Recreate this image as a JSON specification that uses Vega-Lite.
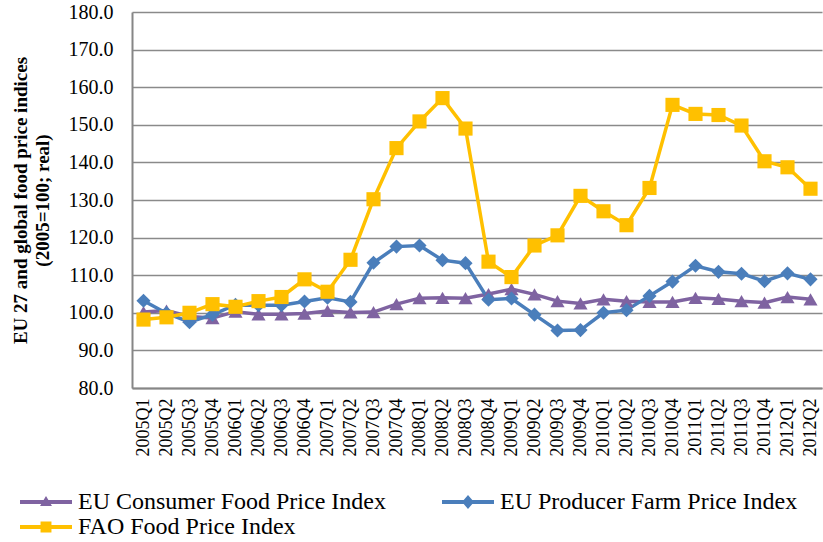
{
  "$schema": "https://vega.github.io/schema/vega-lite/v6.json",
  "width": 690,
  "height": 376,
  "autosize": "none",
  "padding": {"left": 132, "top": 12, "right": 1, "bottom": 154},
  "background": "white",
  "config": {
    "view": {"stroke": null},
    "font": "Liberation Serif",
    "style": {"guide-label": {"font": "Liberation Serif", "fill": "#000000"}},
    "legend": {"labelFont": "Liberation Serif", "labelFontSize": 24, "labelColor": "#000000"}
  },
  "resolve": {"legend": {"color": "independent", "shape": "independent"}},
  "datasets": {
    "rows": [
      {"quarter": "2005Q1", "series": "EU Consumer Food Price Index", "value": 100.2},
      {"quarter": "2005Q2", "series": "EU Consumer Food Price Index", "value": 100.6},
      {"quarter": "2005Q3", "series": "EU Consumer Food Price Index", "value": 99.0},
      {"quarter": "2005Q4", "series": "EU Consumer Food Price Index", "value": 98.6},
      {"quarter": "2006Q1", "series": "EU Consumer Food Price Index", "value": 100.3},
      {"quarter": "2006Q2", "series": "EU Consumer Food Price Index", "value": 99.6},
      {"quarter": "2006Q3", "series": "EU Consumer Food Price Index", "value": 99.6},
      {"quarter": "2006Q4", "series": "EU Consumer Food Price Index", "value": 99.8},
      {"quarter": "2007Q1", "series": "EU Consumer Food Price Index", "value": 100.5},
      {"quarter": "2007Q2", "series": "EU Consumer Food Price Index", "value": 100.1},
      {"quarter": "2007Q3", "series": "EU Consumer Food Price Index", "value": 100.2},
      {"quarter": "2007Q4", "series": "EU Consumer Food Price Index", "value": 102.3},
      {"quarter": "2008Q1", "series": "EU Consumer Food Price Index", "value": 103.9},
      {"quarter": "2008Q2", "series": "EU Consumer Food Price Index", "value": 104.0},
      {"quarter": "2008Q3", "series": "EU Consumer Food Price Index", "value": 103.9},
      {"quarter": "2008Q4", "series": "EU Consumer Food Price Index", "value": 105.0},
      {"quarter": "2009Q1", "series": "EU Consumer Food Price Index", "value": 106.3},
      {"quarter": "2009Q2", "series": "EU Consumer Food Price Index", "value": 104.9},
      {"quarter": "2009Q3", "series": "EU Consumer Food Price Index", "value": 103.1},
      {"quarter": "2009Q4", "series": "EU Consumer Food Price Index", "value": 102.5},
      {"quarter": "2010Q1", "series": "EU Consumer Food Price Index", "value": 103.6},
      {"quarter": "2010Q2", "series": "EU Consumer Food Price Index", "value": 103.1},
      {"quarter": "2010Q3", "series": "EU Consumer Food Price Index", "value": 102.9},
      {"quarter": "2010Q4", "series": "EU Consumer Food Price Index", "value": 102.9},
      {"quarter": "2011Q1", "series": "EU Consumer Food Price Index", "value": 104.0},
      {"quarter": "2011Q2", "series": "EU Consumer Food Price Index", "value": 103.7},
      {"quarter": "2011Q3", "series": "EU Consumer Food Price Index", "value": 103.1},
      {"quarter": "2011Q4", "series": "EU Consumer Food Price Index", "value": 102.7},
      {"quarter": "2012Q1", "series": "EU Consumer Food Price Index", "value": 104.2},
      {"quarter": "2012Q2", "series": "EU Consumer Food Price Index", "value": 103.6},
      {"quarter": "2005Q1", "series": "EU Producer Farm Price Index", "value": 103.2},
      {"quarter": "2005Q2", "series": "EU Producer Farm Price Index", "value": 99.9},
      {"quarter": "2005Q3", "series": "EU Producer Farm Price Index", "value": 97.5},
      {"quarter": "2005Q4", "series": "EU Producer Farm Price Index", "value": 99.5},
      {"quarter": "2006Q1", "series": "EU Producer Farm Price Index", "value": 102.1},
      {"quarter": "2006Q2", "series": "EU Producer Farm Price Index", "value": 102.0},
      {"quarter": "2006Q3", "series": "EU Producer Farm Price Index", "value": 102.0},
      {"quarter": "2006Q4", "series": "EU Producer Farm Price Index", "value": 103.0},
      {"quarter": "2007Q1", "series": "EU Producer Farm Price Index", "value": 104.0},
      {"quarter": "2007Q2", "series": "EU Producer Farm Price Index", "value": 102.9},
      {"quarter": "2007Q3", "series": "EU Producer Farm Price Index", "value": 113.3},
      {"quarter": "2007Q4", "series": "EU Producer Farm Price Index", "value": 117.6},
      {"quarter": "2008Q1", "series": "EU Producer Farm Price Index", "value": 117.9},
      {"quarter": "2008Q2", "series": "EU Producer Farm Price Index", "value": 114.0},
      {"quarter": "2008Q3", "series": "EU Producer Farm Price Index", "value": 113.2},
      {"quarter": "2008Q4", "series": "EU Producer Farm Price Index", "value": 103.5},
      {"quarter": "2009Q1", "series": "EU Producer Farm Price Index", "value": 103.8},
      {"quarter": "2009Q2", "series": "EU Producer Farm Price Index", "value": 99.5},
      {"quarter": "2009Q3", "series": "EU Producer Farm Price Index", "value": 95.3},
      {"quarter": "2009Q4", "series": "EU Producer Farm Price Index", "value": 95.4},
      {"quarter": "2010Q1", "series": "EU Producer Farm Price Index", "value": 100.0},
      {"quarter": "2010Q2", "series": "EU Producer Farm Price Index", "value": 100.7},
      {"quarter": "2010Q3", "series": "EU Producer Farm Price Index", "value": 104.5},
      {"quarter": "2010Q4", "series": "EU Producer Farm Price Index", "value": 108.3},
      {"quarter": "2011Q1", "series": "EU Producer Farm Price Index", "value": 112.5},
      {"quarter": "2011Q2", "series": "EU Producer Farm Price Index", "value": 110.9},
      {"quarter": "2011Q3", "series": "EU Producer Farm Price Index", "value": 110.4},
      {"quarter": "2011Q4", "series": "EU Producer Farm Price Index", "value": 108.4},
      {"quarter": "2012Q1", "series": "EU Producer Farm Price Index", "value": 110.5},
      {"quarter": "2012Q2", "series": "EU Producer Farm Price Index", "value": 108.9},
      {"quarter": "2005Q1", "series": "FAO Food Price Index", "value": 98.2},
      {"quarter": "2005Q2", "series": "FAO Food Price Index", "value": 98.8},
      {"quarter": "2005Q3", "series": "FAO Food Price Index", "value": 100.0},
      {"quarter": "2005Q4", "series": "FAO Food Price Index", "value": 102.3},
      {"quarter": "2006Q1", "series": "FAO Food Price Index", "value": 101.6},
      {"quarter": "2006Q2", "series": "FAO Food Price Index", "value": 103.1},
      {"quarter": "2006Q3", "series": "FAO Food Price Index", "value": 104.2},
      {"quarter": "2006Q4", "series": "FAO Food Price Index", "value": 108.9},
      {"quarter": "2007Q1", "series": "FAO Food Price Index", "value": 105.6},
      {"quarter": "2007Q2", "series": "FAO Food Price Index", "value": 114.1},
      {"quarter": "2007Q3", "series": "FAO Food Price Index", "value": 130.2},
      {"quarter": "2007Q4", "series": "FAO Food Price Index", "value": 143.8},
      {"quarter": "2008Q1", "series": "FAO Food Price Index", "value": 150.9},
      {"quarter": "2008Q2", "series": "FAO Food Price Index", "value": 157.1},
      {"quarter": "2008Q3", "series": "FAO Food Price Index", "value": 149.0},
      {"quarter": "2008Q4", "series": "FAO Food Price Index", "value": 113.6},
      {"quarter": "2009Q1", "series": "FAO Food Price Index", "value": 109.5},
      {"quarter": "2009Q2", "series": "FAO Food Price Index", "value": 117.9},
      {"quarter": "2009Q3", "series": "FAO Food Price Index", "value": 120.6},
      {"quarter": "2009Q4", "series": "FAO Food Price Index", "value": 131.1},
      {"quarter": "2010Q1", "series": "FAO Food Price Index", "value": 127.0},
      {"quarter": "2010Q2", "series": "FAO Food Price Index", "value": 123.3},
      {"quarter": "2010Q3", "series": "FAO Food Price Index", "value": 133.2},
      {"quarter": "2010Q4", "series": "FAO Food Price Index", "value": 155.3},
      {"quarter": "2011Q1", "series": "FAO Food Price Index", "value": 152.9},
      {"quarter": "2011Q2", "series": "FAO Food Price Index", "value": 152.6},
      {"quarter": "2011Q3", "series": "FAO Food Price Index", "value": 149.8},
      {"quarter": "2011Q4", "series": "FAO Food Price Index", "value": 140.3},
      {"quarter": "2012Q1", "series": "FAO Food Price Index", "value": 138.7},
      {"quarter": "2012Q2", "series": "FAO Food Price Index", "value": 133.0}
    ]
  },
  "data": {"name": "rows"},
  "encoding": {
    "x": {
      "field": "quarter",
      "type": "ordinal",
      "sort": null,
      "scale": {"type": "point", "padding": 0.5},
      "axis": {
        "title": null,
        "labelAngle": -90,
        "labelFont": "Liberation Serif",
        "labelFontSize": 18,
        "labelColor": "#000000",
        "labelPadding": 10,
        "ticks": false,
        "domainColor": "#868686",
        "domainWidth": 2,
        "grid": false
      }
    },
    "y": {
      "field": "value",
      "type": "quantitative",
      "scale": {"domain": [80, 180], "nice": false, "zero": false},
      "axis": {
        "title": ["EU 27 and global food price indices", "(2005=100; real)"],
        "titleFont": "Liberation Serif",
        "titleFontSize": 19,
        "titleFontWeight": "bold",
        "titleColor": "#000000",
        "titleLineHeight": 22,
        "titlePadding": 16,
        "values": [80, 90, 100, 110, 120, 130, 140, 150, 160, 170, 180],
        "format": ".1f",
        "labelFont": "Liberation Serif",
        "labelFontSize": 20,
        "labelColor": "#000000",
        "labelPadding": 19,
        "ticks": false,
        "domainColor": "#868686",
        "domainWidth": 2,
        "grid": true,
        "gridColor": "#8a8a8a",
        "gridWidth": 1.5
      }
    }
  },
  "layer": [
    {
      "mark": {"type": "line", "strokeWidth": 3.5},
      "encoding": {
        "color": {
          "field": "series",
          "type": "nominal",
          "scale": {
            "domain": ["EU Consumer Food Price Index", "EU Producer Farm Price Index", "FAO Food Price Index"],
            "range": ["#7F63A1", "#4A7EBB", "#FFC000"]
          },
          "legend": {
            "title": null,
            "orient": "none",
            "direction": "horizontal",
            "legendX": -112,
            "legendY": 477,
            "columns": 2,
            "columnPadding": 56,
            "rowPadding": 0,
            "symbolSize": 676,
            "symbolStrokeWidth": 0,
            "labelFont": "Liberation Serif",
            "labelFontSize": 24,
            "labelColor": "#000000",
            "labelOffset": 32,
            "labelLimit": 400,
            "encode": {
              "symbols": {
                "update": {
                  "shape": {"signal": "datum.value === 'EU Consumer Food Price Index' ? 'M-1,-0.16L3,-0.16L3,0.16L-1,0.16Z M1,-0.46L1.46,0.31L0.54,0.31Z' : datum.value === 'EU Producer Farm Price Index' ? 'M-1,-0.16L3,-0.16L3,0.16L-1,0.16Z M1,-0.54L1.46,0L1,0.54L0.54,0Z' : 'M-1,-0.16L3,-0.16L3,0.16L-1,0.16Z M0.58,-0.42L1.42,-0.42L1.42,0.42L0.58,0.42Z'"},
                  "fill": {"signal": "scale('color', datum.value)"},
                  "stroke": {"value": "transparent"},
                  "strokeWidth": {"value": 0},
                  "opacity": {"value": 1}
                }
              }
            }
          }
        }
      }
    },
    {
      "mark": {"type": "point", "filled": true, "opacity": 1, "size": 200},
      "encoding": {
        "color": {"field": "series", "type": "nominal", "legend": null},
        "shape": {
          "field": "series",
          "type": "nominal",
          "scale": {
            "domain": ["EU Consumer Food Price Index", "EU Producer Farm Price Index", "FAO Food Price Index"],
            "range": ["triangle-up", "diamond", "square"]
          },
          "legend": null
        }
      }
    }
  ]
}
